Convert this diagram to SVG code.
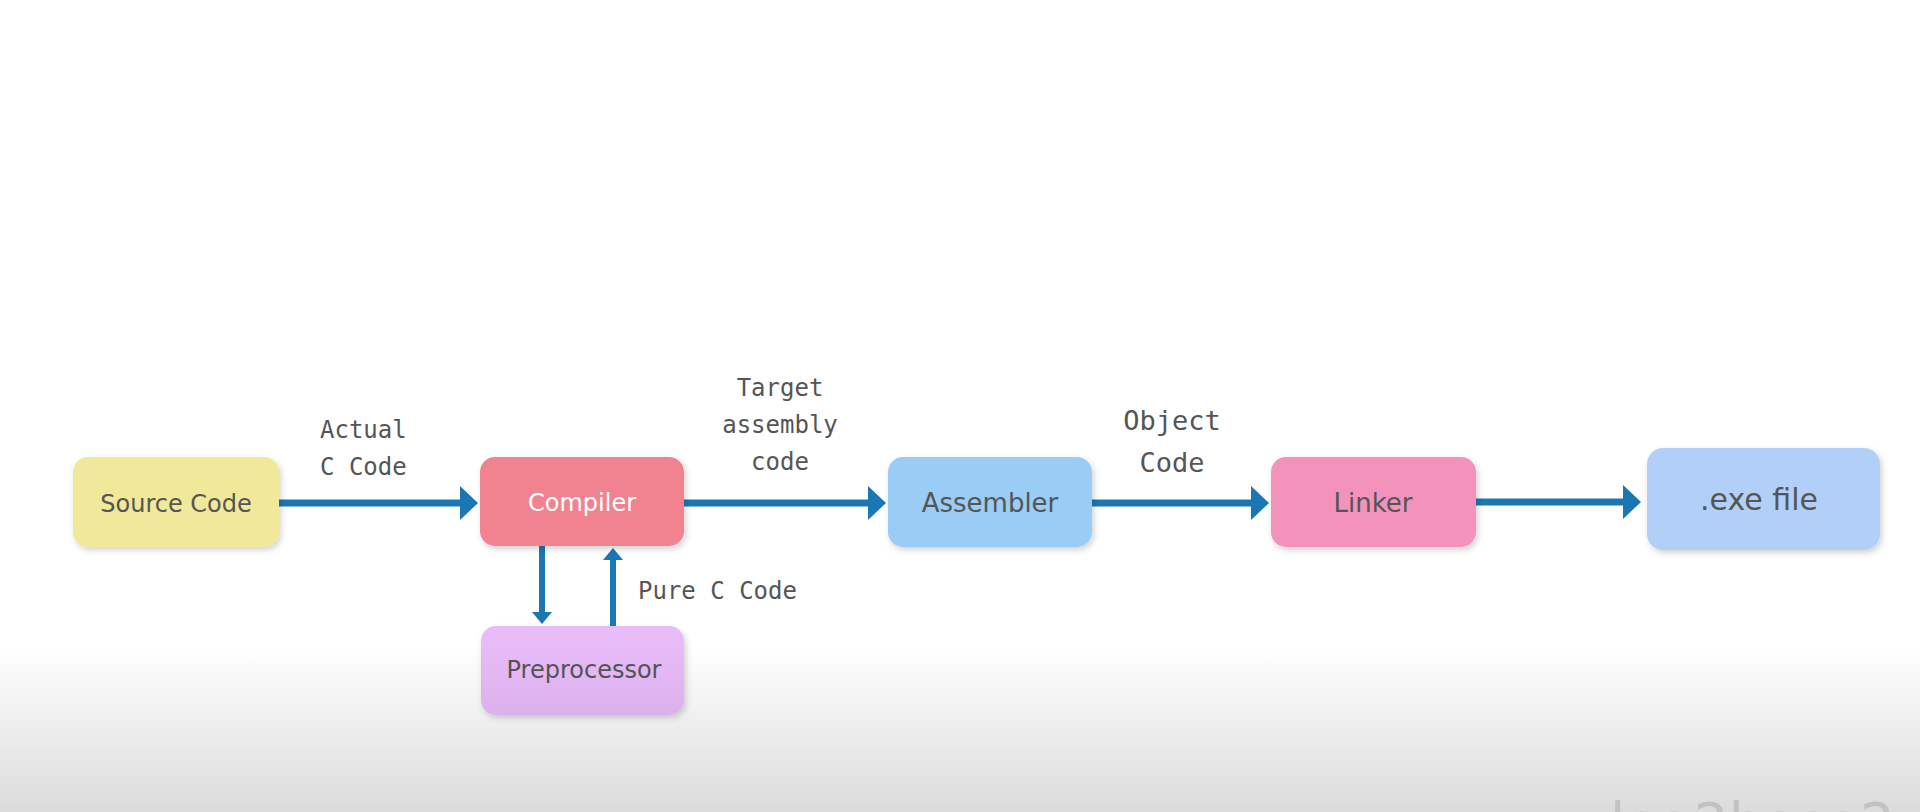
<svg xmlns="http://www.w3.org/2000/svg" width="1920" height="812" viewBox="0 0 1920 812">
  <defs>
    <filter id="shadow" x="-10%" y="-10%" width="125%" height="135%">
      <feDropShadow dx="2" dy="3" stdDeviation="3" flood-color="#000" flood-opacity="0.18"/>
    </filter>
    <marker id="head" markerUnits="userSpaceOnUse" markerWidth="18" markerHeight="34" refX="12" refY="17" orient="auto">
      <path d="M0,0 L18,17 L0,34 Z" fill="#1a77b3"/>
    </marker>
    <marker id="headSmall" markerUnits="userSpaceOnUse" markerWidth="12" markerHeight="20" refX="6" refY="10" orient="auto">
      <path d="M0,0 L12,10 L0,20 Z" fill="#1a77b3"/>
    </marker>
    <linearGradient id="fade" x1="0" y1="0" x2="0" y2="1">
      <stop offset="0" stop-color="#000" stop-opacity="0"/>
      <stop offset="1" stop-color="#000" stop-opacity="0.14"/>
    </linearGradient>
  </defs>
  <style>
    .box { filter: url(#shadow); }
    .label { font-family: "DejaVu Sans", Verdana, sans-serif; font-size: 24px; fill: #555; text-anchor: middle; }
    .note { font-family: "DejaVu Sans Mono", "Liberation Mono", monospace; font-size: 24px; fill: #555; }
    .conn { stroke: #1a77b3; stroke-width: 7; fill: none; marker-end: url(#head); }
    .conn-v { stroke: #1a77b3; stroke-width: 6; fill: none; marker-end: url(#headSmall); }
  </style>

  <rect width="1920" height="812" fill="#ffffff"/>

  <!-- connectors -->
  <g id="connectors">
    <line class="conn" x1="279" y1="503" x2="472" y2="503"/>
    <line class="conn" x1="684" y1="503" x2="880" y2="503"/>
    <line class="conn" x1="1092" y1="503" x2="1263" y2="503"/>
    <line class="conn" x1="1476" y1="502" x2="1635" y2="502"/>
    <line class="conn-v" x1="542" y1="546" x2="542" y2="618"/>
    <line class="conn-v" x1="613" y1="626" x2="613" y2="554"/>
  </g>

  <!-- edge labels -->
  <g id="edge-labels" class="note">
    <text x="320" y="438">Actual</text>
    <text x="320" y="475">C Code</text>
    <text x="780" y="396" text-anchor="middle">Target</text>
    <text x="780" y="433" text-anchor="middle">assembly</text>
    <text x="780" y="470" text-anchor="middle">code</text>
    <text x="1172" y="430" text-anchor="middle" font-size="27">Object</text>
    <text x="1172" y="472" text-anchor="middle" font-size="27">Code</text>
    <text x="638" y="599">Pure C Code</text>
  </g>

  <!-- nodes -->
  <g id="source-code">
    <rect class="box" x="73" y="457" width="206" height="90" rx="15" fill="#f0e99a"/>
    <text class="label" x="176" y="512">Source Code</text>
  </g>
  <g id="compiler">
    <rect class="box" x="480" y="457" width="204" height="89" rx="15" fill="#f0838f"/>
    <text class="label" x="582" y="511" style="fill:#ffffff">Compiler</text>
  </g>
  <g id="preprocessor">
    <rect class="box" x="481" y="626" width="203" height="89" rx="15" fill="#e8bbf9"/>
    <text class="label" x="584" y="678">Preprocessor</text>
  </g>
  <g id="assembler">
    <rect class="box" x="888" y="457" width="204" height="90" rx="15" fill="#99cdf6"/>
    <text class="label" x="990" y="512" style="font-size:26px">Assembler</text>
  </g>
  <g id="linker">
    <rect class="box" x="1271" y="457" width="205" height="90" rx="15" fill="#f393bc"/>
    <text class="label" x="1373" y="512" style="font-size:26px">Linker</text>
  </g>
  <g id="exe-file">
    <rect class="box" x="1647" y="448" width="233" height="102" rx="16" fill="#b2d0f7"/>
    <text class="label" x="1759" y="510" style="font-size:30px">.exe file</text>
  </g>

  <!-- bottom shading and site name -->
  <rect x="0" y="645" width="1920" height="167" fill="url(#fade)"/>
  <text x="1610" y="842" font-family="DejaVu Sans, sans-serif" font-size="55" fill="#c2c2c2">log2base2.com</text>
</svg>
